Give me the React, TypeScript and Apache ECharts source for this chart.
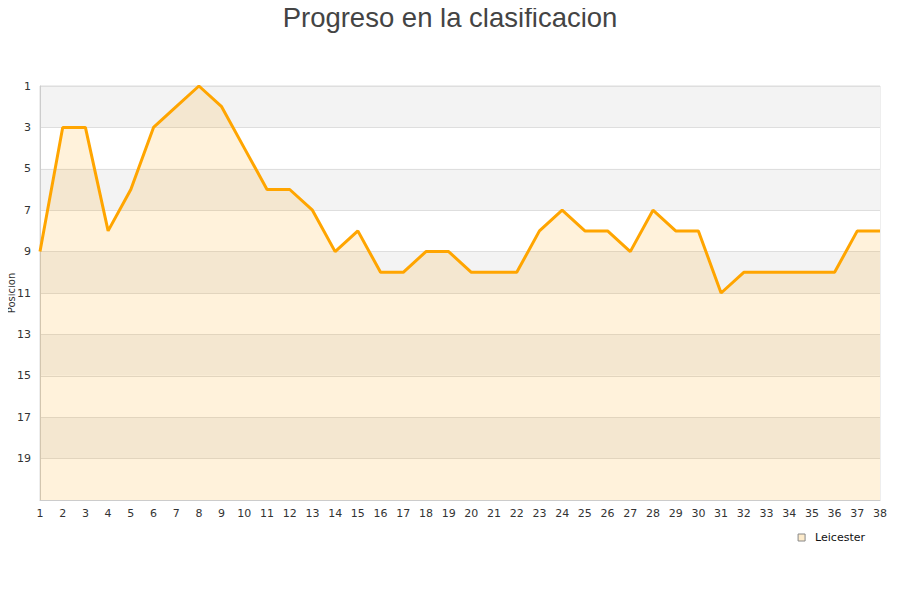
import React, { useEffect, useRef } from "react";
import * as echarts from "echarts";

const rounds: string[] = Array.from({ length: 38 }, (_, i) => String(i + 1));
const leicester: number[] = [
  9, 3, 3, 8, 6, 3, 2, 1, 2, 4, 6, 6, 7, 9, 8, 10, 10, 9, 9, 10,
  10, 10, 8, 7, 8, 8, 9, 7, 8, 8, 11, 10, 10, 10, 10, 10, 8, 8,
];
const titleText = "Progreso en la clasificacion";
const yName = "Posicion";
const seriesName = "Leicester";

export default function App() {
  const ref = useRef<HTMLDivElement>(null);
  useEffect(() => {
    if (!ref.current) return;
    const chart = echarts.init(ref.current, undefined, { renderer: "svg" });
    chart.setOption({
      animation: false,
      title: {
        text: titleText,
        left: "center",
        top: 3,
        padding: 0,
        textStyle: {
          fontFamily: "Liberation Sans, Arial, sans-serif",
          fontSize: 27.5,
          fontWeight: "normal",
          color: "#444",
        },
      },
      grid: {
        left: 40,
        right: 20,
        top: 86,
        bottom: 100,
        containLabel: false,
        outerBoundsMode: "none",
        show: true,
        borderColor: "#dddddd",
        borderWidth: 1,
        backgroundColor: "transparent",
      },
      legend: {
        data: [
          {
            name: seriesName,
            icon: "rect",
            itemStyle: { color: "#fdebcb", borderColor: "#888", borderWidth: 1 },
          },
        ],
        right: 30,
        top: 527,
        itemWidth: 7,
        itemHeight: 7,
        itemGap: 6,
        itemStyle: { color: "#fdebcb", borderColor: "#888", borderWidth: 1 },
        textStyle: {
          fontFamily: "DejaVu Sans, sans-serif",
          fontSize: 11,
          color: "#111",
          padding: [0, 0, 0, 5],
        },
      },
      xAxis: {
        type: "category",
        data: rounds,
        boundaryGap: false,
        axisLine: { show: true, lineStyle: { color: "#cccccc" } },
        axisTick: { show: false },
        axisLabel: {
          interval: 0,
          margin: 8,
          fontFamily: "DejaVu Sans, sans-serif",
          fontSize: 11,
          color: "#333",
        },
        splitLine: { show: false },
      },
      yAxis: {
        type: "value",
        inverse: true,
        min: 1,
        max: 21,
        interval: 2,
        name: yName,
        nameLocation: "middle",
        nameGap: 24,
        nameMoveOverlap: false,
        nameTextStyle: { fontFamily: "DejaVu Sans, sans-serif", fontSize: 10, color: "#333" },
        axisLine: { show: true, lineStyle: { color: "#cccccc" } },
        axisTick: { show: false },
        axisLabel: {
          margin: 9,
          fontFamily: "DejaVu Sans, sans-serif",
          fontSize: 11,
          color: "#333",
          formatter: (v: number) => (v === 21 ? "" : String(v)),
        },
        splitLine: { show: true, lineStyle: { color: "#dedede", width: 1 } },
        splitArea: { show: true, areaStyle: { color: ["#f3f3f3", "#ffffff"] } },
      },
      series: [
        {
          name: seriesName,
          type: "line",
          data: leicester,
          showSymbol: false,
          symbol: "none",
          lineStyle: { color: "#ffa500", width: 3 },
          itemStyle: { color: "#ffa500" },
          areaStyle: { color: "rgba(255,165,0,0.2)", origin: "end" },
        },
      ],
    });
    return () => chart.dispose();
  }, []);
  return <div ref={ref} style={{ width: 900, height: 600, marginLeft: -8, marginTop: -8 }} />;
}
